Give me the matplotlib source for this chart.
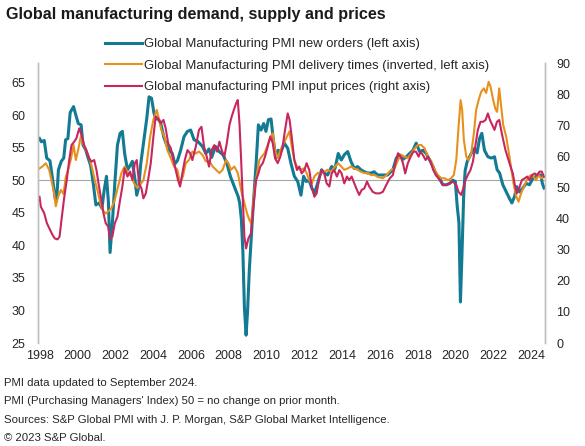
import matplotlib.pyplot as plt
import numpy as np

plt.rcParams['font.family'] = ['Liberation Sans', 'DejaVu Sans']

# Global Manufacturing PMI new orders (left axis), time as decimal year
new_orders_t = [1998.00, 1998.10, 1998.25, 1998.38, 1998.55, 1998.70, 1998.84, 1998.92, 1999.00, 1999.15,
                1999.28, 1999.38, 1999.50, 1999.62, 1999.80, 1999.92, 2000.05, 2000.20, 2000.30, 2000.45,
                2000.57, 2000.70, 2000.85, 2000.98, 2001.15, 2001.30, 2001.42, 2001.54, 2001.64, 2001.73,
                2001.85, 2001.98, 2002.12, 2002.26, 2002.38, 2002.50, 2002.65, 2002.80, 2002.91, 2003.05,
                2003.14, 2003.25, 2003.35, 2003.53, 2003.67, 2003.79, 2003.92, 2004.05, 2004.14, 2004.30,
                2004.41, 2004.58, 2004.75, 2004.85, 2005.02, 2005.15, 2005.29, 2005.46, 2005.64, 2005.82,
                2005.99, 2006.17, 2006.35, 2006.61, 2006.79, 2006.96, 2007.10, 2007.30, 2007.50, 2007.70,
                2007.90, 2008.10, 2008.30, 2008.50, 2008.58, 2008.67, 2008.75, 2008.83, 2008.92, 2009.00,
                2009.09, 2009.27, 2009.45, 2009.57, 2009.71, 2009.85, 2009.97, 2010.10, 2010.24, 2010.36,
                2010.50, 2010.62, 2010.77, 2010.94, 2011.12, 2011.29, 2011.47, 2011.65, 2011.82, 2011.96,
                2012.10, 2012.25, 2012.39, 2012.53, 2012.70, 2012.91, 2013.05, 2013.23, 2013.44, 2013.62,
                2013.79, 2013.95, 2014.11, 2014.29, 2014.46, 2014.64, 2014.81, 2014.99, 2015.17, 2015.34,
                2015.52, 2015.69, 2015.87, 2016.15, 2016.40, 2016.68, 2016.86, 2017.03, 2017.21, 2017.39,
                2017.56, 2017.74, 2017.91, 2018.09, 2018.27, 2018.44, 2018.62, 2018.80, 2018.97, 2019.15,
                2019.32, 2019.50, 2019.68, 2019.85, 2019.98, 2020.08, 2020.17, 2020.25, 2020.33, 2020.42,
                2020.50, 2020.61, 2020.82, 2021.00, 2021.13, 2021.26, 2021.38, 2021.52, 2021.70, 2021.88,
                2022.05, 2022.19, 2022.32, 2022.49, 2022.67, 2022.84, 2022.97, 2023.11, 2023.23, 2023.37,
                2023.55, 2023.72, 2023.90, 2024.08, 2024.25, 2024.38, 2024.50, 2024.58, 2024.67]
new_orders_v = [56.4, 55.9, 56.1, 53.4, 53.0, 50.0, 47.0, 47.6, 51.6, 52.9,
                53.4, 56.2, 56.4, 60.4, 61.3, 60.0, 58.7, 58.5, 55.4, 54.6,
                53.4, 52.3, 49.3, 46.2, 46.5, 45.7, 48.5, 50.6, 46.7, 38.9,
                43.4, 49.5, 55.4, 57.2, 57.5, 54.1, 51.6, 52.3, 52.9, 50.0,
                47.7, 49.0, 52.5, 56.4, 59.5, 62.8, 62.6, 60.3, 59.5, 59.3,
                58.7, 56.5, 55.2, 54.6, 54.1, 52.5, 53.0, 54.6, 56.7, 57.5,
                57.7, 56.2, 56.0, 55.2, 54.1, 54.8, 53.5, 55.2, 54.4, 53.9,
                52.6, 50.5, 49.0, 47.5, 46.5, 44.0, 39.0, 30.5, 26.2, 30.0,
                36.2, 44.9, 52.6, 58.5, 57.7, 58.7, 57.5, 59.3, 59.4, 56.2,
                53.4, 54.6, 54.4, 55.7, 54.9, 52.6, 50.6, 49.8, 47.7, 50.6,
                49.8, 50.0, 48.8, 48.0, 49.5, 51.6, 51.1, 50.8, 52.1, 51.8,
                54.1, 53.1, 53.9, 54.4, 52.9, 51.8, 52.1, 51.6, 51.3, 51.1,
                51.1, 51.3, 50.8, 50.8, 50.8, 51.6, 53.4, 53.9, 53.2, 53.6,
                54.1, 54.6, 55.7, 54.4, 54.6, 54.1, 53.1, 52.1, 50.8, 50.3,
                49.3, 49.3, 49.5, 50.0, 49.8, 46.0, 43.5, 31.3, 38.5, 47.5,
                51.5, 52.9, 54.1, 54.9, 54.2, 56.4, 57.2, 54.6, 53.6, 53.4,
                53.6, 51.6, 51.1, 49.3, 48.2, 47.2, 46.5, 47.5, 49.0, 48.2,
                48.8, 49.5, 49.3, 50.3, 50.6, 50.8, 50.8, 49.5, 48.8]

# Global Manufacturing PMI delivery times, inverted (left axis)
delivery_t = [1998.00, 1998.15, 1998.33, 1998.51, 1998.63, 1998.77, 1998.86, 1998.99, 1999.13, 1999.27,
              1999.39, 1999.51, 1999.65, 1999.80, 1999.92, 2000.04, 2000.18, 2000.36, 2000.54, 2000.67,
              2000.80, 2000.92, 2001.06, 2001.20, 2001.33, 2001.50, 2001.63, 2001.80, 2001.98, 2002.15,
              2002.33, 2002.50, 2002.68, 2002.86, 2003.00, 2003.18, 2003.32, 2003.49, 2003.67, 2003.85,
              2004.02, 2004.20, 2004.32, 2004.44, 2004.60, 2004.76, 2004.94, 2005.11, 2005.29, 2005.43,
              2005.58, 2005.73, 2005.90, 2006.08, 2006.25, 2006.43, 2006.61, 2006.79, 2006.98, 2007.16,
              2007.33, 2007.51, 2007.68, 2007.86, 2007.99, 2008.12, 2008.30, 2008.48, 2008.56, 2008.69,
              2008.83, 2008.97, 2009.09, 2009.18, 2009.27, 2009.36, 2009.50, 2009.62, 2009.74, 2009.89,
              2010.06, 2010.20, 2010.33, 2010.45, 2010.59, 2010.73, 2010.91, 2011.08, 2011.21, 2011.33,
              2011.47, 2011.61, 2011.79, 2011.96, 2012.09, 2012.26, 2012.39, 2012.53, 2012.70, 2012.87,
              2013.05, 2013.23, 2013.42, 2013.62, 2013.79, 2013.95, 2014.11, 2014.29, 2014.46, 2014.64,
              2014.81, 2014.99, 2015.17, 2015.34, 2015.52, 2015.70, 2015.89, 2016.15, 2016.35, 2016.59,
              2016.77, 2016.95, 2017.12, 2017.30, 2017.47, 2017.65, 2017.83, 2018.00, 2018.18, 2018.36,
              2018.53, 2018.71, 2018.88, 2019.06, 2019.24, 2019.41, 2019.59, 2019.76, 2019.90, 2020.03,
              2020.15, 2020.26, 2020.34, 2020.43, 2020.56, 2020.68, 2020.82, 2020.96, 2021.08, 2021.21,
              2021.35, 2021.49, 2021.61, 2021.74, 2021.84, 2021.96, 2022.09, 2022.19, 2022.30, 2022.40,
              2022.51, 2022.67, 2022.84, 2022.97, 2023.07, 2023.20, 2023.32, 2023.46, 2023.60, 2023.72,
              2023.85, 2023.99, 2024.13, 2024.25, 2024.38, 2024.52, 2024.67]
delivery_v = [51.8, 52.1, 52.6, 51.6, 50.0, 48.0, 46.0, 47.5, 48.5, 47.9,
              50.5, 51.6, 53.1, 55.4, 53.1, 54.6, 56.7, 55.2, 54.1, 53.1,
              51.6, 50.0, 48.5, 46.7, 45.4, 44.9, 45.2, 45.7, 47.0, 49.0,
              51.1, 52.1, 51.1, 50.6, 49.5, 48.8, 49.3, 50.0, 52.6, 56.7,
              59.3, 60.8, 59.3, 57.7, 56.7, 54.6, 53.4, 52.1, 51.6, 49.5,
              50.6, 52.6, 53.1, 54.4, 54.1, 54.4, 53.9, 52.9, 52.9, 52.1,
              51.6, 51.1, 51.6, 53.1, 52.6, 51.6, 52.1, 51.1, 50.0, 48.0,
              46.5, 44.9, 43.9, 43.4, 45.4, 48.5, 51.1, 53.1, 53.6, 54.1,
              55.4, 56.7, 57.2, 54.6, 53.4, 54.6, 55.7, 56.7, 57.5, 55.2,
              53.1, 52.1, 51.6, 51.8, 51.3, 50.0, 49.5, 50.6, 51.1, 51.1,
              51.3, 51.6, 51.3, 52.1, 52.6, 52.1, 51.6, 51.8, 52.1, 51.8,
              51.6, 51.3, 51.1, 51.1, 50.8, 50.8, 50.5, 50.3, 50.8, 51.6,
              51.8, 53.1, 53.9, 53.6, 53.4, 54.1, 54.9, 55.4, 55.4, 54.9,
              53.6, 52.9, 51.6, 50.8, 50.3, 50.3, 50.0, 50.3, 50.8, 53.1,
              58.2, 62.3, 60.8, 56.2, 53.6, 53.1, 54.1, 57.2, 60.8, 62.3,
              63.6, 64.1, 63.4, 65.1, 64.4, 62.6, 61.0, 60.5, 64.1, 61.5,
              58.5, 56.7, 53.6, 51.1, 49.3, 47.5, 46.7, 48.0, 49.0, 49.8,
              50.5, 50.8, 50.5, 50.0, 50.8, 50.3, 50.5]

# Global manufacturing PMI input prices (right axis)
input_prices_t = [1998.00, 1998.07, 1998.25, 1998.39, 1998.56, 1998.69, 1998.81, 1998.95, 1999.06, 1999.16,
                  1999.30, 1999.44, 1999.57, 1999.69, 1999.83, 1999.95, 2000.10, 2000.22, 2000.36, 2000.50,
                  2000.62, 2000.75, 2000.89, 2001.01, 2001.12, 2001.24, 2001.38, 2001.50, 2001.63, 2001.73,
                  2001.85, 2001.98, 2002.12, 2002.26, 2002.38, 2002.50, 2002.65, 2002.79, 2002.91, 2003.04,
                  2003.14, 2003.26, 2003.39, 2003.49, 2003.62, 2003.74, 2003.88, 2004.02, 2004.14, 2004.27,
                  2004.41, 2004.55, 2004.67, 2004.80, 2004.94, 2005.08, 2005.20, 2005.32, 2005.43, 2005.55,
                  2005.68, 2005.82, 2005.96, 2006.08, 2006.26, 2006.43, 2006.56, 2006.70, 2006.84, 2006.96,
                  2007.10, 2007.24, 2007.39, 2007.51, 2007.63, 2007.77, 2007.90, 2008.04, 2008.16, 2008.27,
                  2008.39, 2008.48, 2008.57, 2008.65, 2008.74, 2008.83, 2008.92, 2009.04, 2009.18, 2009.32,
                  2009.45, 2009.57, 2009.67, 2009.80, 2009.92, 2010.06, 2010.20, 2010.33, 2010.45, 2010.59,
                  2010.73, 2010.85, 2010.98, 2011.12, 2011.22, 2011.33, 2011.47, 2011.61, 2011.73, 2011.86,
                  2012.00, 2012.12, 2012.26, 2012.39, 2012.53, 2012.65, 2012.77, 2012.91, 2013.05, 2013.18,
                  2013.32, 2013.44, 2013.58, 2013.72, 2013.85, 2013.97, 2014.11, 2014.25, 2014.37, 2014.50,
                  2014.64, 2014.78, 2014.90, 2015.03, 2015.17, 2015.31, 2015.43, 2015.61, 2015.78, 2015.98,
                  2016.15, 2016.33, 2016.51, 2016.68, 2016.81, 2016.95, 2017.09, 2017.21, 2017.33, 2017.47,
                  2017.62, 2017.76, 2017.90, 2018.04, 2018.14, 2018.27, 2018.41, 2018.53, 2018.67, 2018.81,
                  2018.97, 2019.15, 2019.32, 2019.50, 2019.68, 2019.85, 2020.03, 2020.15, 2020.29, 2020.40,
                  2020.52, 2020.64, 2020.78, 2020.91, 2021.03, 2021.17, 2021.31, 2021.45, 2021.58, 2021.70,
                  2021.81, 2021.93, 2022.05, 2022.18, 2022.30, 2022.40, 2022.51, 2022.63, 2022.76, 2022.90,
                  2023.02, 2023.11, 2023.23, 2023.35, 2023.50, 2023.64, 2023.78, 2023.90, 2024.04, 2024.17,
                  2024.31, 2024.43, 2024.55, 2024.66]
input_prices_v = [47.0, 43.8, 41.7, 38.5, 36.3, 34.7, 33.6, 33.3, 34.2, 39.5,
                  46.5, 52.4, 58.8, 63.6, 64.7, 65.8, 69.0, 66.9, 63.6, 61.5,
                  59.4, 58.3, 58.8, 55.6, 51.3, 47.0, 41.7, 38.5, 37.4, 33.6,
                  34.2, 38.5, 40.6, 46.0, 50.3, 56.1, 53.5, 55.1, 52.4, 57.8,
                  58.8, 51.3, 49.7, 46.5, 48.1, 52.4, 57.8, 66.3, 72.8, 72.2,
                  70.6, 71.7, 69.0, 64.2, 62.6, 58.8, 55.6, 52.4, 50.3, 54.5,
                  58.8, 62.0, 61.0, 58.8, 63.1, 68.5, 69.5, 63.1, 59.9, 56.7,
                  62.0, 63.6, 61.5, 64.7, 62.0, 59.9, 64.2, 70.1, 72.8, 74.9,
                  77.0, 78.1, 70.6, 59.9, 47.0, 34.2, 30.4, 33.6, 35.3, 44.9,
                  52.4, 54.5, 56.7, 57.8, 59.9, 63.1, 66.3, 64.2, 59.4, 57.8,
                  59.9, 63.1, 68.5, 73.8, 71.7, 66.3, 58.8, 55.6, 56.7, 54.5,
                  55.6, 57.8, 55.6, 50.3, 47.0, 48.1, 52.4, 55.6, 54.5, 51.3,
                  50.3, 54.5, 55.6, 53.5, 55.6, 54.5, 51.3, 53.5, 52.4, 53.5,
                  51.3, 49.2, 47.6, 49.2, 49.7, 51.9, 50.3, 48.6, 48.1, 48.1,
                  48.6, 50.8, 52.9, 54.0, 57.8, 61.0, 59.9, 57.8, 54.5, 57.8,
                  59.9, 61.5, 61.5, 59.9, 61.5, 60.4, 58.8, 59.9, 58.3, 55.6,
                  54.0, 52.4, 50.8, 50.8, 51.3, 51.9, 50.8, 48.6, 47.6, 49.7,
                  52.4, 54.0, 55.6, 58.3, 63.1, 68.5, 71.1, 71.1, 71.7, 73.8,
                  71.7, 70.1, 68.5, 71.1, 71.7, 68.5, 65.3, 62.0, 59.4, 56.7,
                  54.5, 51.3, 48.1, 49.7, 52.4, 52.9, 53.5, 52.4, 54.0, 54.5,
                  54.0, 55.1, 55.1, 53.5]

year_ticks = list(range(1998, 2025, 2))
left_ticks = [25, 30, 35, 40, 45, 50, 55, 60, 65]
right_ticks = [0, 10, 20, 30, 40, 50, 60, 70, 80, 90]

labels = ['Global Manufacturing PMI new orders (left axis)',
          'Global Manufacturing PMI delivery times (inverted, left axis)',
          'Global manufacturing PMI input prices (right axis)']
colors = ['#127A93', '#E8901C', '#C8265E']

fig = plt.figure(figsize=(5.85, 4.46), dpi=100)
ax = fig.add_axes([38 / 585, 103 / 446, 507 / 585, 280 / 446])
ax2 = ax.twinx()

h1, = ax.plot(new_orders_t, new_orders_v, color=colors[0], lw=2.2, zorder=3)
h2, = ax.plot(delivery_t, delivery_v, color=colors[1], lw=1.5, zorder=4)
h3, = ax2.plot(input_prices_t, input_prices_v, color=colors[2], lw=1.5)
ax.axhline(50, color='#A6A6A6', lw=0.8, zorder=1)

ax.set_xlim(1997.92, 2024.72)
ax.set_ylim(25, 68)
ax2.set_ylim(0, 90)
ax.set_xticks(year_ticks)
ax.set_xticklabels([str(y) for y in year_ticks])
ax.set_yticks(left_ticks)
ax2.set_yticks(right_ticks)

for a in (ax, ax2):
    for s in ('top', 'bottom'):
        a.spines[s].set_visible(False)
    a.spines['left'].set_color('#BFBFBF')
    a.spines['right'].set_color('#BFBFBF')
    a.spines['left'].set_linewidth(1.0)
    a.spines['right'].set_linewidth(1.0)
ax.tick_params(axis='x', length=0, pad=5, labelsize=9, colors='#262626')
ax.tick_params(axis='y', length=0, pad=9, labelsize=9, colors='#262626')
ax2.tick_params(axis='y', length=0, pad=8, labelsize=9, colors='#262626')

fig.legend([h1, h2, h3], labels, loc='upper left', bbox_to_anchor=(105 / 585, 1 - 38 / 446),
           frameon=False, fontsize=9.4, handlelength=2.8, handletextpad=0.2,
           labelspacing=0.72, borderpad=0, borderaxespad=0, labelcolor='#262626')

fig.text(6 / 585, 1 - 15 / 446, 'Global manufacturing demand, supply and prices',
         fontsize=11.6, fontweight='bold', va='center', color='#1a1a1a')

notes = ['PMI data updated to September 2024.',
         "PMI (Purchasing Managers' Index) 50 = no change on prior month.",
         'Sources: S&P Global PMI with J. P. Morgan, S&P Global Market Intelligence.',
         '\u00a9 2023 S&P Global.']
for i, n in enumerate(notes):
    fig.text(4 / 585, 1 - (383 + i * 18.3) / 446, n, fontsize=8.2, va='center', color='#262626')

fig.savefig('out.png', dpi=100)
